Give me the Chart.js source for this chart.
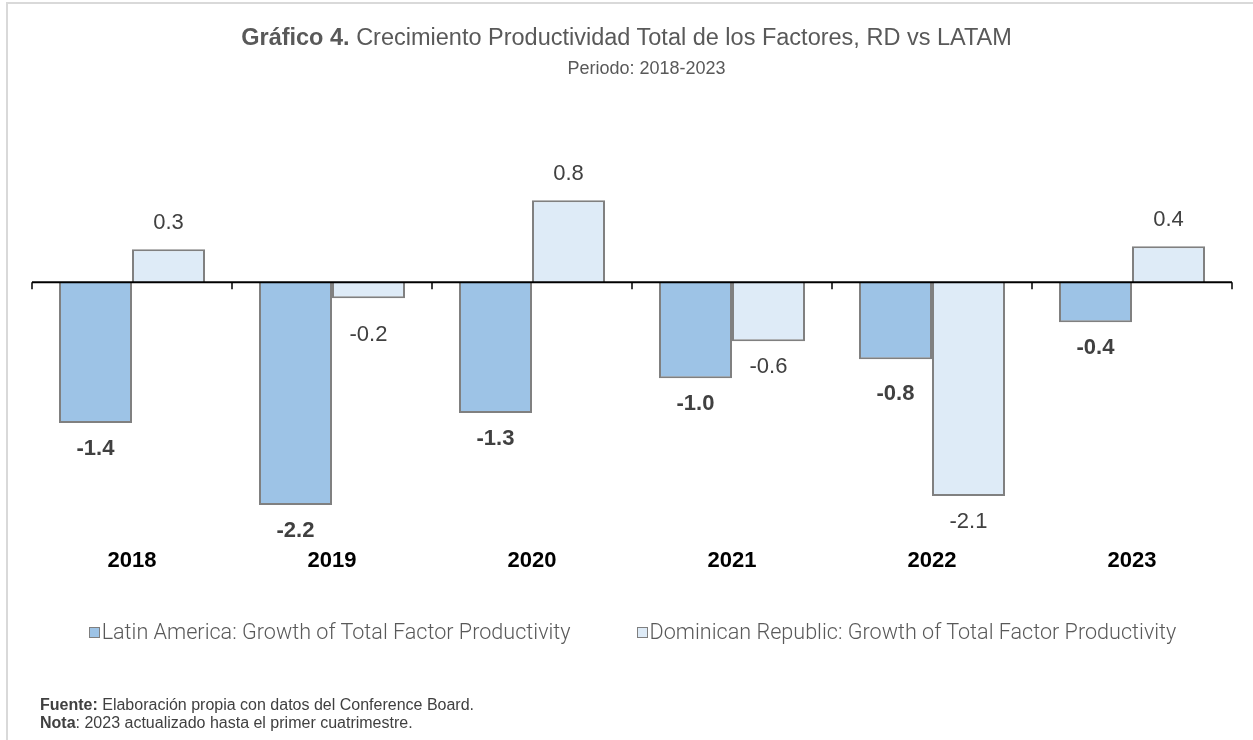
<!DOCTYPE html>
<html><head><meta charset="utf-8">
<script src="https://cdn.jsdelivr.net/npm/chart.js@4.4.0/dist/chart.umd.min.js"></script>
<style>
html,body{margin:0;padding:0;background:#fff;width:1253px;height:740px;overflow:hidden;}
#wrap{position:relative;width:1253px;height:740px;}
#frame{position:absolute;left:6px;top:2px;width:1300px;height:800px;border-left:2px solid #d9d9d9;border-top:2px solid #d9d9d9;box-sizing:border-box;}
#c{position:absolute;left:0;top:0;}
.t{position:absolute;left:0;width:1253px;text-align:center;font-family:'Liberation Sans',Arial,sans-serif;color:#595959;white-space:nowrap;}
#title{top:24px;font-size:23.5px;line-height:27px;}
#sub{top:58px;left:20px;font-size:18px;line-height:20px;}
#legend{position:absolute;left:6px;width:1253px;top:619px;display:flex;justify-content:center;gap:66px;font-family:Roboto,'Noto Sans',sans-serif;font-weight:300;font-size:21.6px;line-height:26px;color:#595959;}
#legend .item{display:flex;align-items:center;}
#legend .sw{width:9px;height:9px;border:1px solid #7f7f7f;margin-right:2px;}
.note{position:absolute;left:40px;font-family:'Liberation Sans',Arial,sans-serif;font-size:16px;line-height:18px;color:#404040;white-space:nowrap;}
</style></head>
<body><div id="wrap">
<div id="frame"></div>
<canvas id="c" width="1253" height="740"></canvas>
<div class="t" id="title"><b>Gráfico 4.</b> Crecimiento Productividad Total de los Factores, RD vs LATAM</div>
<div class="t" id="sub">Periodo: 2018-2023</div>
<div id="legend"></div>
<div class="note" style="top:696px"><b>Fuente:</b> Elaboración propia con datos del Conference Board.</div>
<div class="note" style="top:714px"><b>Nota</b>: 2023 actualizado hasta el primer cuatrimestre.</div>
</div>
<script>
const categories = ['2018', '2019', '2020', '2021', '2022', '2023'];
const latamValues = [-1.41, -2.23, -1.31, -0.96, -0.77, -0.40];
const drValues = [0.33, -0.16, 0.82, -0.59, -2.14, 0.36];
const seriesNames = ['Latin America: Growth of Total Factor Productivity', 'Dominican Republic: Growth of Total Factor Productivity'];
const seriesColors = ['#9DC3E6', '#DEEBF7'];

Chart.defaults.font.family = "'Liberation Sans', Arial, sans-serif";

const axisPlugin = {
  id: 'zeroAxis',
  afterDatasetsDraw(chart) {
    const ctx = chart.ctx, x = chart.scales.x, y = chart.scales.y;
    const y0 = y.getPixelForValue(0);
    const left = chart.chartArea.left, right = chart.chartArea.right;
    ctx.save();
    ctx.strokeStyle = '#000';
    ctx.lineWidth = 2;
    ctx.beginPath();
    ctx.moveTo(left, y0); ctx.lineTo(right, y0);
    ctx.stroke();
    ctx.lineWidth = 1.5;
    const n = categories.length;
    const bounds = [left];
    for (let i = 1; i < n; i++) bounds.push((x.getPixelForValue(i - 1) + x.getPixelForValue(i)) / 2);
    bounds.push(right);
    ctx.beginPath();
    bounds.forEach(b => { ctx.moveTo(b, y0); ctx.lineTo(b, y0 + 7); });
    ctx.stroke();
    ctx.restore();
  }
};

const labelPlugin = {
  id: 'barLabels',
  afterDatasetsDraw(chart, args, opts) {
    const ctx = chart.ctx;
    ctx.save();
    ctx.textAlign = 'center';
    ctx.textBaseline = 'middle';
    chart.data.datasets.forEach((ds, di) => {
      const meta = chart.getDatasetMeta(di);
      ctx.font = (di === 0 ? 'bold ' : '') + '22px "Liberation Sans", Arial, sans-serif';
      ctx.fillStyle = '#404040';
      meta.data.forEach((el, i) => {
        const v = ds.data[i];
        const off = (opts.extra[di + '-' + i] || 0) + opts.offset;
        const ty = v >= 0 ? el.y - off : el.y + off;
        ctx.fillText(v.toFixed(1), el.x, ty);
      });
    });
    ctx.restore();
  }
};

new Chart(document.getElementById('c'), {
  type: 'bar',
  data: {
    labels: categories,
    datasets: [
      { label: seriesNames[0], data: latamValues, backgroundColor: seriesColors[0], borderColor: '#808080', borderWidth: 2, categoryPercentage: 0.73, barPercentage: 1.0 },
      { label: seriesNames[1], data: drValues, backgroundColor: seriesColors[1], borderColor: '#808080', borderWidth: 2, categoryPercentage: 0.73, barPercentage: 1.0 }
    ]
  },
  options: {
    responsive: false,
    animation: false,
    layout: { padding: { left: 32, right: 21, top: 182.3, bottom: 158 } },
    plugins: {
      legend: { display: false },
      tooltip: { enabled: false },
      barLabels: { offset: 26, extra: { '1-1': 11, '0-4': 9 } }
    },
    scales: {
      x: {
        grid: { display: false, drawTicks: false },
        border: { display: false },
        ticks: { color: '#000', font: { size: 22, weight: 'bold' }, padding: 16, maxRotation: 0, autoSkip: false },
        afterFit: (s) => { s.height = 50; }
      },
      y: {
        display: false,
        min: -2.5,
        max: 1.0
      }
    }
  },
  plugins: [axisPlugin, labelPlugin]
});

const lg = document.getElementById('legend');
seriesNames.forEach((name, i) => {
  const it = document.createElement('div');
  it.className = 'item';
  it.innerHTML = '<span class="sw" style="background:' + seriesColors[i] + '"></span><span>' + name + '</span>';
  lg.appendChild(it);
});
</script>
</body></html>
